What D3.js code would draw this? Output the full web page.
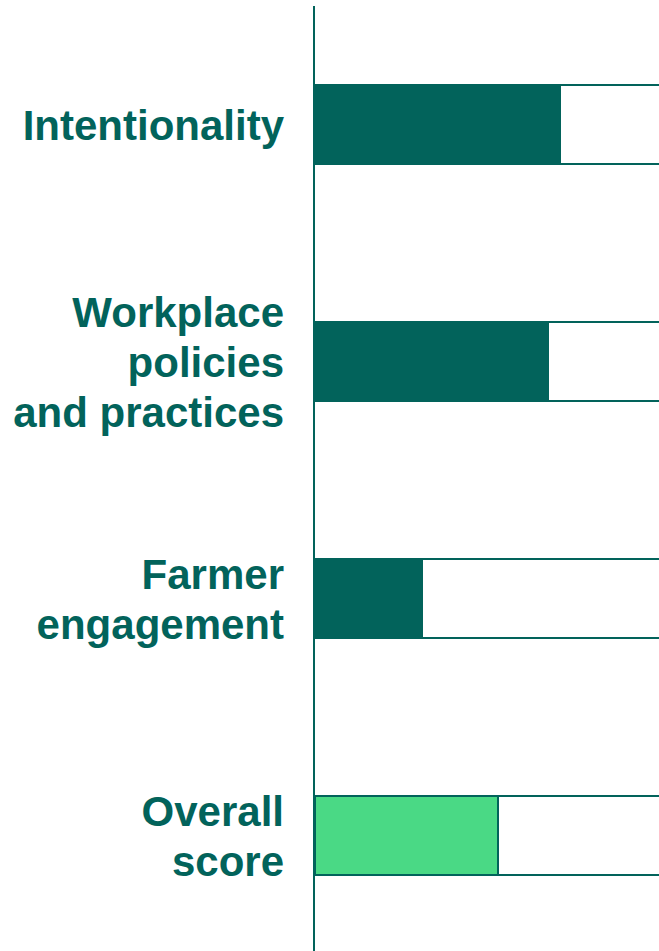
<!DOCTYPE html>
<html>
<head>
<meta charset="utf-8">
<script src="https://cdn.jsdelivr.net/npm/d3@7"></script>
<style>
  html, body { margin: 0; padding: 0; background: #ffffff; }
  svg { display: block; }
</style>
</head>
<body>
<div id="chart"></div>
<script>
// Score categories (label lines) and their values out of 100
const categories = ["Intentionality", "Workplace policies and practices", "Farmer engagement", "Overall score"];
const labelLines = [
  ["Intentionality"],
  ["Workplace", "policies", "and practices"],
  ["Farmer", "engagement"],
  ["Overall", "score"]
];
const scores = [61.5, 58.5, 27, 46];
const maxScore = 100;
const highlighted = ["Overall score"];

const width = 659, height = 951;
const dark = "#02635b";
const green = "#4ad985";

const svg = d3.select("#chart").append("svg")
  .attr("width", width)
  .attr("height", height);

const axisX = 314;

const x = d3.scaleLinear()
  .domain([0, maxScore])
  .range([axisX, axisX + 400]);

const y = d3.scaleBand()
  .domain(categories)
  .range([6, 954])
  .paddingInner(0.658)
  .paddingOuter(0.329);

const bandTop = d => Math.round(y(d.name));
const bh = Math.round(y.bandwidth());

const rows = categories.map((c, i) => ({ name: c, value: scores[i], lines: labelLines[i] }));

// Full-length outline track behind each bar
svg.append("g").selectAll("rect")
  .data(rows)
  .join("rect")
  .attr("x", x(0) + 1)
  .attr("y", d => bandTop(d) + 1)
  .attr("width", x(maxScore) - x(0))
  .attr("height", bh - 2)
  .attr("fill", "#ffffff")
  .attr("stroke", dark)
  .attr("stroke-width", 2);

// Score bars
svg.append("g").selectAll("rect")
  .data(rows)
  .join("rect")
  .attr("x", x(0) + 1)
  .attr("y", d => bandTop(d) + 1)
  .attr("width", d => Math.round(x(d.value) - x(0) - 1))
  .attr("height", bh - 2)
  .attr("fill", d => highlighted.includes(d.name) ? green : dark)
  .attr("stroke", dark)
  .attr("stroke-width", 2);

// Vertical axis line
svg.append("line")
  .attr("x1", axisX).attr("x2", axisX)
  .attr("y1", 6).attr("y2", height)
  .attr("stroke", dark)
  .attr("stroke-width", 2);

// Category labels, right-aligned and centred on each bar
const lineStep = 50;
const labels = svg.append("g")
  .attr("font-family", "'Liberation Sans', Arial, sans-serif")
  .attr("font-weight", "bold")
  .attr("font-size", 42)
  .attr("fill", dark)
  .attr("text-anchor", "end");

rows.forEach(d => {
  const cy = bandTop(d) + bh / 2;
  const n = d.lines.length;
  const t = labels.append("text");
  d.lines.forEach((line, i) => {
    t.append("tspan")
      .attr("x", 284)
      .attr("y", cy + 15 + (i - (n - 1) / 2) * lineStep)
      .text(line);
  });
});
</script>
</body>
</html>
